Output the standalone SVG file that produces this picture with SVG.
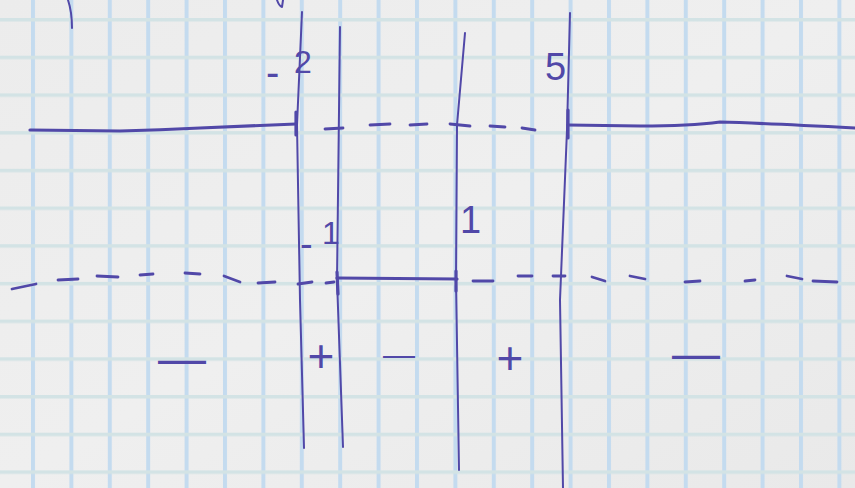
<svg xmlns="http://www.w3.org/2000/svg" width="855" height="488" viewBox="0 0 855 488">
<defs>
<pattern id="grid" patternUnits="userSpaceOnUse" x="31" y="18" width="38.4" height="37.7">
<rect x="0" y="0" width="38.4" height="37.7" fill="none"/>
<rect x="0" y="0" width="4" height="37.7" fill="#c4dbef"/>
<rect x="0" y="0" width="38.4" height="3.5" fill="#d3e3e5"/>
</pattern>
<linearGradient id="paper" x1="0" y1="0" x2="1" y2="1">
<stop offset="0" stop-color="#ececec"/>
<stop offset="0.5" stop-color="#efefef"/>
<stop offset="1" stop-color="#e9e9e9"/>
</linearGradient>
</defs>
<style>
.ink{fill:none;stroke:#5148a8;stroke-linecap:round;stroke-linejoin:round}
.thin{stroke-width:2}
.bold{stroke-width:3.2}
.dash{stroke-width:2.8}
.lbl{fill:#5148a8;font-family:"Liberation Sans",Arial,sans-serif}
</style>
<rect width="855" height="488" fill="url(#paper)"/>
<rect width="855" height="488" fill="url(#grid)"/>

<g id="scribbles">
<path class="ink thin" d="M68,0 Q72,12 72,28"/>
<path class="ink thin" d="M277,0 Q279,6 282,7 L283,0"/>
</g>

<g id="verticals">
<path class="ink thin" d="M302,12 L297,125 L300,300 L304,448"/>
<path class="ink thin" d="M340,27 L337,280 L343,447"/>
<path class="ink thin" d="M465,33 L457,125 L456,280 L459,470"/>
<path class="ink thin" d="M570,13 L567,130 L560,300 L563,488"/>
</g>

<g id="solids">
<path class="ink bold" d="M30,130 L120,131 Q160,130 200,128 L296,124"/>
<path class="ink bold" d="M296,112 L296,135"/>
<path class="ink bold" d="M568,125 L640,126 Q690,126 720,122 Q760,123 855,128"/>
<path class="ink bold" d="M568,110 L568,138"/>
<path class="ink bold" d="M337,278 L457,279"/>
<path class="ink bold" d="M337,272 L338,294"/>
<path class="ink bold" d="M456,271 L456,291"/>
</g>

<g id="dashes-top">
<path class="ink dash" d="M325,129 L343,128"/>
<path class="ink dash" d="M370,125 L390,124"/>
<path class="ink dash" d="M410,125 L427,124"/>
<path class="ink dash" d="M450,124 L470,126"/>
<path class="ink dash" d="M490,126 L505,127"/>
<path class="ink dash" d="M522,128 L535,130"/>
</g>

<g id="dashes-bottom">
<path class="ink dash" d="M12,289 L36,284"/>
<path class="ink dash" d="M58,280 L78,279"/>
<path class="ink dash" d="M97,276 L118,277"/>
<path class="ink dash" d="M140,275 L153,274"/>
<path class="ink dash" d="M185,273 L200,274"/>
<path class="ink dash" d="M224,276 L240,282"/>
<path class="ink dash" d="M258,283 L275,282"/>
<path class="ink dash" d="M298,284 L312,282"/>
<path class="ink dash" d="M326,283 L334,282"/>
<path class="ink dash" d="M473,281 L493,281"/>
<path class="ink dash" d="M518,276 L532,276"/>
<path class="ink dash" d="M553,276 L565,276"/>
<path class="ink dash" d="M592,277 L605,281"/>
<path class="ink dash" d="M630,276 L645,279"/>
<path class="ink dash" d="M685,282 L700,281"/>
<path class="ink dash" d="M745,281 L755,280"/>
<path class="ink dash" d="M787,276 L802,279"/>
<path class="ink dash" d="M813,281 L837,282"/>
</g>

<g id="labels">
<text class="lbl" font-size="32" x="266" y="86"><tspan font-size="40">-</tspan><tspan x="294" y="73">2</tspan></text>
<text class="lbl" font-size="32" x="300" y="257"><tspan font-size="38">-</tspan><tspan x="322" y="244">1</tspan></text>
<text class="lbl" font-size="38" x="460" y="233">1</text>
<text class="lbl" font-size="38" x="545" y="80">5</text>
</g>

<g id="signs">
<text class="lbl" font-size="48" x="158" y="375">—</text>
<text class="lbl" font-size="46" x="321" y="372" text-anchor="middle">+</text>
<text class="lbl" font-size="32" x="383" y="365">—</text>
<text class="lbl" font-size="46" x="510" y="374" text-anchor="middle">+</text>
<text class="lbl" font-size="48" x="672" y="370">—</text>
</g>
</svg>
